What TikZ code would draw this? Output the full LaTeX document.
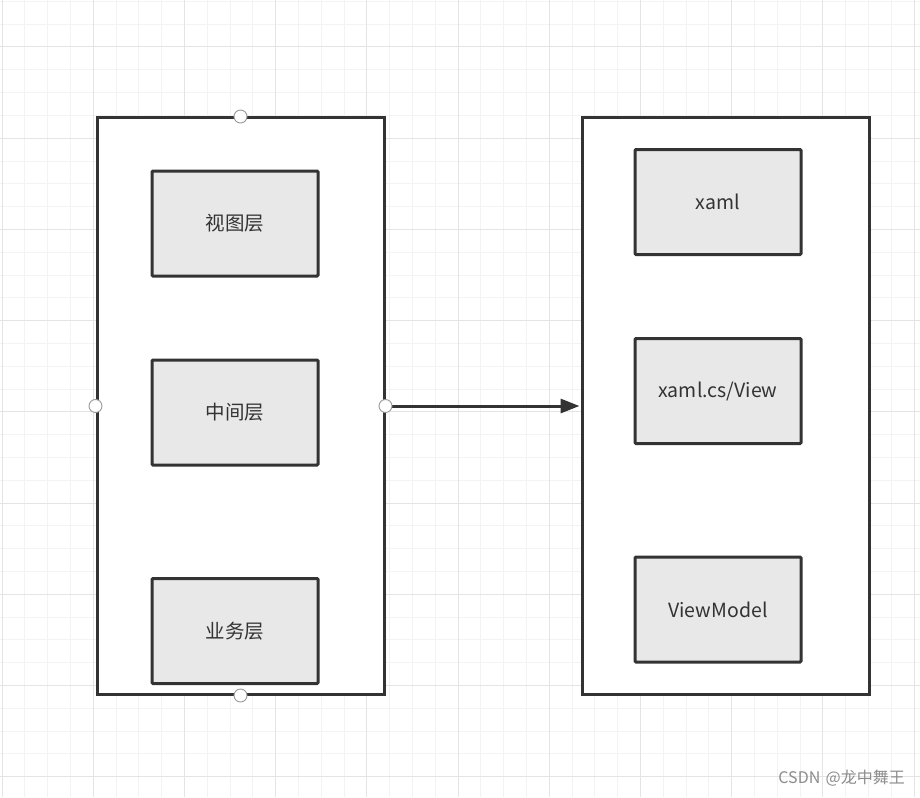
\documentclass[tikz,border=0pt]{standalone}
\usepackage{fontspec}
\setmainfont{Noto Sans CJK SC}
\usetikzlibrary{arrows.meta}
\definecolor{gminor}{RGB}{243,243,243}
\definecolor{gmajor}{RGB}{228,228,228}
\definecolor{ink}{RGB}{51,51,51}
\definecolor{boxfill}{RGB}{232,232,232}
\definecolor{wm}{RGB}{140,140,140}
\tikzset{
  outerbox/.style={draw=ink, line width=3pt, fill=white, minimum width=287pt, minimum height=576pt, inner sep=0pt},
  innerbox/.style={draw=ink, line width=3pt, fill=boxfill, rounded corners=1pt, minimum width=166pt, minimum height=105pt, inner sep=0pt, text=ink, font=\fontsize{19.5}{22}\selectfont},
  handle/.style={circle, draw=gray!80, fill=white, line width=0.9pt, minimum size=13pt, inner sep=0pt},
  arr/.style={draw=ink, line width=3pt, -{Triangle[length=19pt, width=14pt]}, shorten >=1pt},
}
\begin{document}
\begin{tikzpicture}[x=1pt, y=-1pt]
\useasboundingbox (0,0) rectangle (920,797);
\fill[white] (0,0) rectangle (920,797);
% minor grid
\foreach \i in {0,...,40} {
  \draw[gminor, line width=1pt] ({2+22.8*\i},0) -- ({2+22.8*\i},797);
}
\foreach \j in {0,...,35} {
  \draw[gminor, line width=1pt] (0,{1.4+22.8*\j}) -- (920,{1.4+22.8*\j});
}
% major grid
\foreach \i in {0,...,10} {
  \draw[gmajor, line width=1pt] ({2+91.2*\i},0) -- ({2+91.2*\i},797);
}
\foreach \j in {0,...,8} {
  \draw[gmajor, line width=1pt] (0,{47+91.2*\j}) -- (920,{47+91.2*\j});
}
% outer containers
\node[outerbox] (L) at (240.5,406) {};
\node[outerbox] (R) at (725.5,406) {};
% inner boxes left
\node[innerbox] (v1) at (235,223.5) {视图层};
\node[innerbox] (v2) at (235,412.5) {中间层};
\node[innerbox] (v3) at (235,631) {业务层};
% inner boxes right
\node[innerbox] (w1) at (718,202) {xaml};
\node[innerbox] (w2) at (718,391) {xaml.cs/View};
\node[innerbox] (w3) at (718,609.5) {ViewModel};
% connector
\draw[arr] (L.east) -- (R.west);
% selection handles
\node[handle] (hN) at (L.north) {};
\node[handle] (hS) at (L.south) {};
\node[handle] (hW) at (L.west) {};
\node[handle] (hE) at (L.east) {};
% watermark
\node[anchor=east, text=wm, font=\fontsize{16}{18}\selectfont, inner sep=0pt] (wmk) at (905,778) {CSDN\,\,@龙中舞王};
\end{tikzpicture}
\end{document}
